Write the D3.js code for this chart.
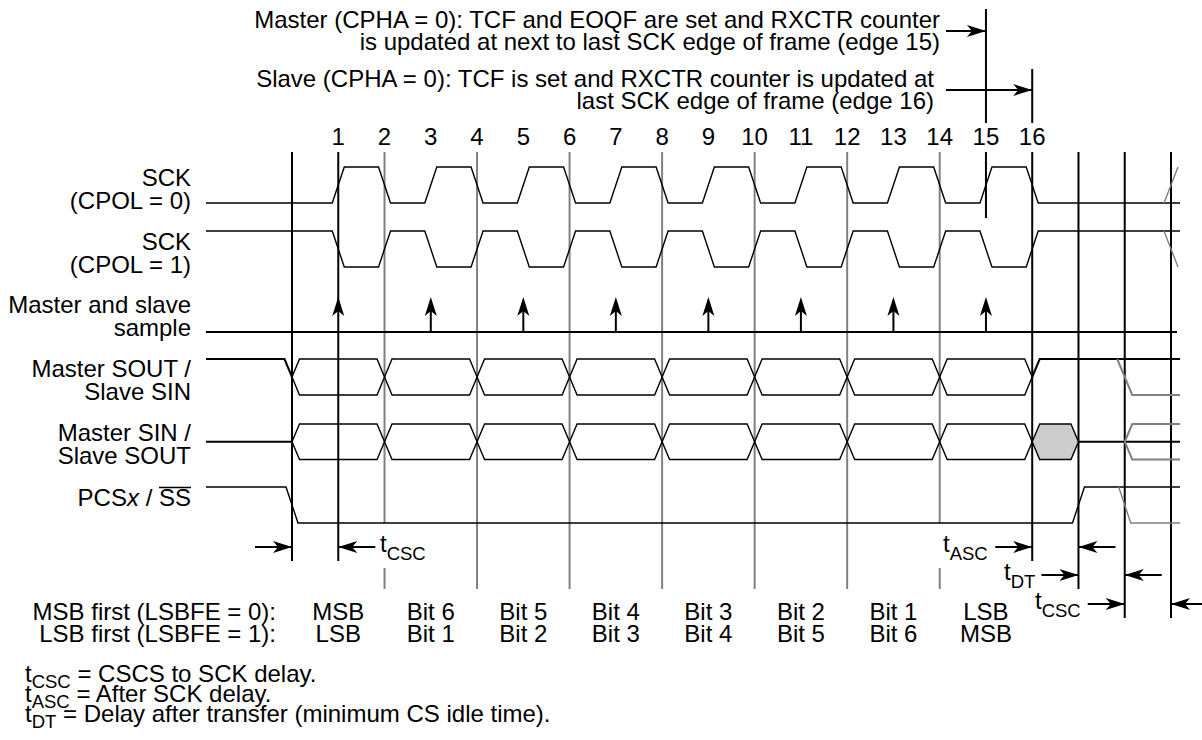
<!DOCTYPE html>
<html>
<head>
<meta charset="utf-8">
<script src="https://cdn.jsdelivr.net/npm/d3@7/dist/d3.min.js"></script>
<style>
  body { margin: 0; background: #fff; }
  svg text { font-family: "Liberation Sans", Arial, Helvetica, sans-serif; font-size: 24px; fill: #000; }
</style>
</head>
<body>
<svg width="1202" height="740"></svg>
<script>

// Chart content
let edgeLabels = ['1', '2', '3', '4', '5', '6', '7', '8', '9', '10', '11', '12', '13', '14', '15', '16'];
let sampleEdges = [1, 3, 5, 7, 9, 11, 13, 15];
let bitEdges = [0, 2, 4, 6, 8, 10, 12, 14, 16];
let msbFirst = ['MSB', 'Bit 6', 'Bit 5', 'Bit 4', 'Bit 3', 'Bit 2', 'Bit 1', 'LSB'];
let lsbFirst = ['LSB', 'Bit 1', 'Bit 2', 'Bit 3', 'Bit 4', 'Bit 5', 'Bit 6', 'MSB'];
// clock level after each edge 0..16 (0 = low, 1 = high)
let sckCpol0 = [0, 1, 0, 1, 0, 1, 0, 1, 0, 1, 0, 1, 0, 1, 0, 1, 0];
let sckCpol1 = [1, 0, 1, 0, 1, 0, 1, 0, 1, 0, 1, 0, 1, 0, 1, 0, 1];
let rowLabels = [
  ['SCK', '(CPOL = 0)'],
  ['SCK', '(CPOL = 1)'],
  ['Master and slave', 'sample'],
  ['Master SOUT /', 'Slave SIN'],
  ['Master SIN /', 'Slave SOUT']
];
let masterNote = ['Master (CPHA = 0): TCF and EOQF are set and RXCTR counter',
                  'is updated at next to last SCK edge of frame (edge 15)'];
let slaveNote = ['Slave (CPHA = 0): TCF is set and RXCTR counter is updated at',
                 'last SCK edge of frame (edge 16)'];
let bitRowLabels = ['MSB first (LSBFE = 0):', 'LSB first (LSBFE = 1):'];
// timing intervals, in edge numbers
let timings = [
  { sub: 'CSC', from: 0, to: 1 },
  { sub: 'ASC', from: 16, to: 17 },
  { sub: 'DT', from: 17, to: 18 },
  { sub: 'CSC', from: 18, to: 19 }
];
let footnotes = [
  ['CSC', ' = CSCS to SCK delay.'],
  ['ASC', ' = After SCK delay.'],
  ['DT', ' = Delay after transfer (minimum CS idle time).']
];

let svg = d3.select('svg');
let x = d3.scaleLinear().domain([0, 19]).range([292, 1171]);
let xLeft = 206, xRight = 1180;
let ramp = 6, dRamp = 7.5;
let gray = '#808080';

// signal rows (hi / lo levels)
let rows = {
  sck0: { hi: 167, lo: 203 },
  sck1: { hi: 231, lo: 267 },
  sample: { base: 332, tip: 297 },
  sout: { hi: 359, lo: 395 },
  sin: { hi: 424, lo: 459.5 },
  pcs: { hi: 487, lo: 523 }
};
let line = d3.line();

// ---------- vertical guide lines ----------
let guides = svg.append('g');
function vline(xv, y1, y2, color, w) {
  guides.append('line')
    .attr('x1', xv).attr('x2', xv).attr('y1', y1).attr('y2', y2)
    .attr('stroke', color).attr('stroke-width', w);
}
[2, 4, 6, 8, 10, 12, 14].forEach(e => {
  if (e == 2 || e == 14) {
    vline(x(e), 152, rows.pcs.lo, gray, 2);
    vline(x(e), 568, 589, gray, 2);
  } else {
    vline(x(e), 152, 589, gray, 2);
  }
});
vline(x(0), 152, 561, '#000', 2);
vline(x(1), 152, 561, '#000', 2);
vline(x(15), 9, 123, '#000', 2);
vline(x(15), 152, 218, '#000', 2);
vline(x(16), 69, 123, '#000', 2);
vline(x(16), 152, 561, '#000', 2);
vline(x(17), 152, 589, '#000', 2);
vline(x(18), 152, 618, '#000', 2);
vline(x(19), 152, 618, '#000', 2);

// ---------- arrows ----------
function arrowRight(tx, ty) {
  return `M${tx},${ty}L${tx - 19},${ty - 6}L${tx - 14},${ty}L${tx - 19},${ty + 6}Z`;
}
function arrowLeft(tx, ty) {
  return `M${tx},${ty}L${tx + 19},${ty - 6}L${tx + 14},${ty}L${tx + 19},${ty + 6}Z`;
}
function arrowUp(tx, ty) {
  return `M${tx},${ty}L${tx - 6},${ty + 19}L${tx},${ty + 14}L${tx + 6},${ty + 19}Z`;
}
function hArrow(x1, x2, y) {
  svg.append('line').attr('x1', x1).attr('x2', x2).attr('y1', y).attr('y2', y)
    .attr('stroke', '#000').attr('stroke-width', 2);
  svg.append('path').attr('d', x2 > x1 ? arrowRight(x2, y) : arrowLeft(x2, y)).attr('fill', '#000');
}

// ---------- top notes ----------
masterNote.forEach((t, i) => {
  svg.append('text').attr('x', 940).attr('y', 28 + i * 22).attr('text-anchor', 'end').text(t);
});
slaveNote.forEach((t, i) => {
  svg.append('text').attr('x', 934).attr('y', 87 + i * 22).attr('text-anchor', 'end').text(t);
});
hArrow(946, x(15), 31);
hArrow(946, x(16), 90);

// edge numbers
svg.append('g').selectAll('text')
  .data(edgeLabels)
  .enter().append('text')
  .attr('x', (d, i) => x(i + 1))
  .attr('y', 145)
  .attr('text-anchor', 'middle')
  .text(d => d);

// ---------- left labels ----------
rowLabels.forEach((pair, i) => {
  let base = [209, 273, 336, 400, 464][i];
  pair.forEach((t, j) => {
    svg.append('text').attr('x', 191).attr('y', base - 23 * (1 - j))
      .attr('text-anchor', 'end').text(t);
  });
});
let pcsText = svg.append('text').attr('x', 191).attr('y', 506).attr('text-anchor', 'end');
pcsText.append('tspan').text('PCS');
pcsText.append('tspan').style('font-style', 'italic').text('x');
pcsText.append('tspan').text(' / ');
pcsText.append('tspan').text('SS');

// ---------- clock waveforms ----------
function clockPoints(levels, row) {
  let lv = v => v ? row.hi : row.lo;
  let pts = [[xLeft, lv(levels[0])]];
  for (let i = 1; i < levels.length; i++) {
    if (levels[i] != levels[i - 1]) {
      pts.push([x(i) - ramp, lv(levels[i - 1])]);
      pts.push([x(i) + ramp, lv(levels[i])]);
    }
  }
  pts.push([xRight, lv(levels[levels.length - 1])]);
  return pts;
}
function signal(pts, color, w, fill) {
  svg.append('path').attr('d', line(pts))
    .attr('fill', fill || 'none').attr('stroke', color || '#000')
    .attr('stroke-width', w || 1.4).attr('stroke-linejoin', 'miter');
}
signal(clockPoints(sckCpol0, rows.sck0));
signal(clockPoints(sckCpol1, rows.sck1));
// next frame starting (gray)
signal([[x(19) - ramp - 1, rows.sck0.lo], [x(19) + ramp + 1, rows.sck0.hi]], gray);
signal([[x(19) - ramp - 1, rows.sck1.hi], [x(19) + ramp + 1, rows.sck1.lo]], gray);

// ---------- sample row ----------
svg.append('line').attr('x1', xLeft).attr('x2', xRight - 3)
  .attr('y1', rows.sample.base).attr('y2', rows.sample.base)
  .attr('stroke', '#000').attr('stroke-width', 2);
sampleEdges.forEach(e => {
  if (e != 1) {
    svg.append('line').attr('x1', x(e)).attr('x2', x(e))
      .attr('y1', rows.sample.base).attr('y2', rows.sample.tip + 10)
      .attr('stroke', '#000').attr('stroke-width', 2);
  }
  svg.append('path').attr('d', arrowUp(x(e), rows.sample.tip)).attr('fill', '#000');
});

// ---------- data rows ----------
function hexagon(e0, e1, row) {
  let a = x(e0), b = x(e1), m = (row.hi + row.lo) / 2;
  return [[a, m], [a + dRamp, row.hi], [b - dRamp, row.hi], [b, m],
          [b - dRamp, row.lo], [a + dRamp, row.lo], [a, m]];
}
function dataRow(row) {
  for (let i = 0; i < bitEdges.length - 1; i++) {
    signal(hexagon(bitEdges[i], bitEdges[i + 1], row));
  }
}
let soutMid = (rows.sout.hi + rows.sout.lo) / 2;
let sinMid = (rows.sin.hi + rows.sin.lo) / 2;

dataRow(rows.sout);
signal([[xLeft, rows.sout.hi], [x(0) - dRamp, rows.sout.hi], [x(0), soutMid]], '#000', 2);
signal([[x(16), soutMid], [x(16) + dRamp, rows.sout.hi], [xRight, rows.sout.hi]], '#000', 2);
signal([[x(18) - dRamp, rows.sout.hi], [x(18) + dRamp, rows.sout.lo], [xRight, rows.sout.lo]], gray, 2);

dataRow(rows.sin);
signal([[xLeft, sinMid], [x(0), sinMid]], '#000', 2);
signal(hexagon(16, 17, rows.sin), '#000', 1.4, '#cccccc');
signal([[x(17), sinMid], [xRight, sinMid]], '#000', 2);
signal([[xRight, rows.sin.hi], [x(18) + dRamp, rows.sin.hi], [x(18), sinMid],
        [x(18) + dRamp, rows.sin.lo], [xRight, rows.sin.lo]], gray, 2);

// ---------- PCS ----------
signal([[xLeft, rows.pcs.hi], [x(0) - ramp, rows.pcs.hi], [x(0) + ramp, rows.pcs.lo],
        [x(17) - ramp, rows.pcs.lo], [x(17) + ramp, rows.pcs.hi], [xRight, rows.pcs.hi]]);
signal([[x(18) - ramp, rows.pcs.hi], [x(18) + ramp, rows.pcs.lo], [xRight, rows.pcs.lo]], gray);

// ---------- timing dimensions ----------
function tLabel(xv, y, sub, size) {
  let t = svg.append('text').attr('x', xv).attr('y', y);
  t.append('tspan').text('t');
  t.append('tspan').attr('dy', 8).style('font-size', size + 'px').text(sub);
  return t;
}
let dimY = [547, 547, 575, 604];
let labelX = [380, 943, 1004, 1035];
timings.forEach((d, i) => {
  let y = dimY[i];
  hArrow(x(d.from) - 37, x(d.from), y);
  hArrow(i == 3 ? 1210 : x(d.to) + 37, x(d.to), y);
  tLabel(labelX[i], y + 5, d.sub, 18.5);
});

// ---------- bit order table ----------
bitRowLabels.forEach((t, i) => {
  svg.append('text').attr('x', 276).attr('y', 620 + i * 22).attr('text-anchor', 'end').text(t);
});
[msbFirst, lsbFirst].forEach((arr, r) => {
  svg.append('g').selectAll('text')
    .data(arr)
    .enter().append('text')
    .attr('x', (d, i) => x(2 * i + 1))
    .attr('y', 620 + r * 22)
    .attr('text-anchor', 'middle')
    .text(d => d);
});

// ---------- footnotes ----------
footnotes.forEach((f, i) => {
  let t = svg.append('text').attr('x', 25).attr('y', 682 + i * 20);
  t.append('tspan').text('t');
  t.append('tspan').attr('dy', 6).style('font-size', '18.5px').text(f[0]);
  t.append('tspan').attr('dy', -6).text(f[1]);
});

// overline on SS
let node = pcsText.node();
let n = node.getNumberOfChars();
let sx1 = node.getStartPositionOfChar(n - 2).x;
let sx2 = node.getEndPositionOfChar(n - 1).x;
svg.append('line').attr('x1', sx1).attr('x2', sx2).attr('y1', 487.5).attr('y2', 487.5)
  .attr('stroke', '#000').attr('stroke-width', 1.5);

</script>
</body>
</html>
